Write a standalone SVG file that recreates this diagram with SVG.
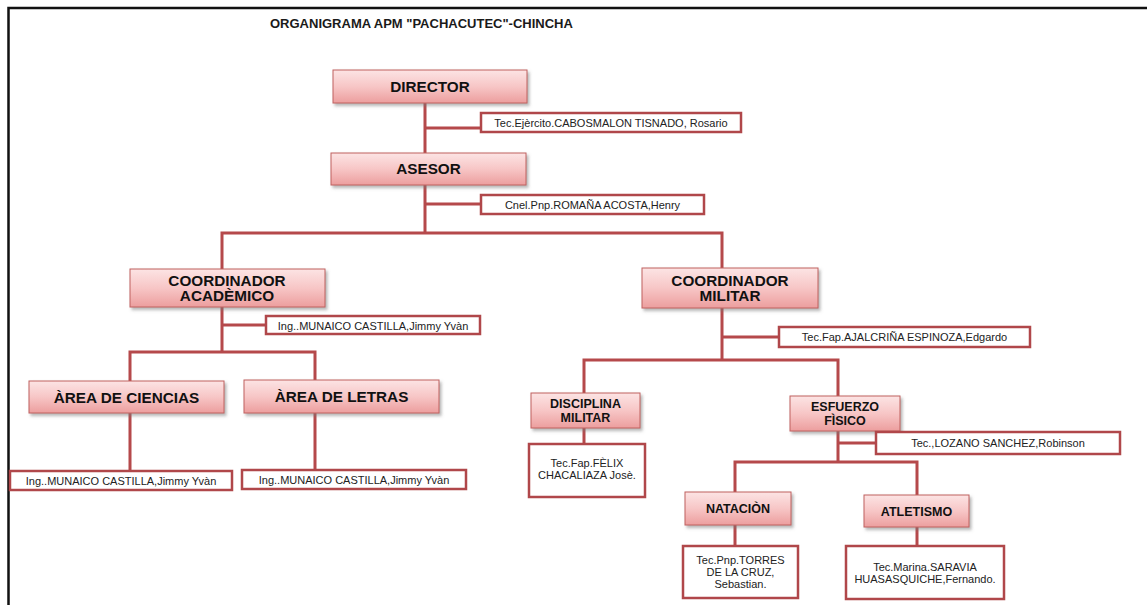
<svg xmlns="http://www.w3.org/2000/svg" width="1147" height="605" viewBox="0 0 1147 605">
  <defs>
    <linearGradient id="pinkFill" x1="0" y1="0" x2="0" y2="1">
      <stop offset="0" stop-color="#fce4e4"/>
      <stop offset="0.5" stop-color="#f7c6c6"/>
      <stop offset="1" stop-color="#ec9e9e"/>
    </linearGradient>
    <filter id="shadow" x="-10%" y="-20%" width="125%" height="150%">
      <feDropShadow dx="2" dy="2.5" stdDeviation="1.5" flood-color="#7a7a7a" flood-opacity="0.55"/>
    </filter>
  </defs>
  <style>
    .frame { fill: none; stroke: #111; stroke-width: 2.5; }
    .title { font-family: "Liberation Sans", Arial, sans-serif; font-weight: bold; font-size: 13px; fill: #1a1a1a; }
    .conn { fill: none; stroke: #b5494b; stroke-width: 3; }
    .unit { fill: url(#pinkFill); stroke: #c0605f; stroke-width: 1; filter: url(#shadow); }
    .person { fill: #fff; stroke: #b0474a; stroke-width: 2.5; }
    .big { font-family: "Liberation Sans", Arial, sans-serif; font-weight: bold; font-size: 15.3px; fill: #111; text-anchor: middle; }
    .small { font-family: "Liberation Sans", Arial, sans-serif; font-weight: bold; font-size: 12.5px; fill: #111; text-anchor: middle; }
    .name { font-family: "Liberation Sans", Arial, sans-serif; font-size: 11px; fill: #222; text-anchor: middle; }
  </style>

  <rect width="1147" height="605" fill="#fff"/>
  <!-- page frame (top and left rules) -->
  <path class="frame" d="M8.5,605 V8 H1147"/>
  <text class="title" x="270" y="28">ORGANIGRAMA APM "PACHACUTEC"-CHINCHA</text>

  <g id="connectors">
    <path class="conn" d="M425,103 V153 M425,128 H481"/>
    <path class="conn" d="M425,185 V233 M425,204 H481"/>
    <path class="conn" d="M222,271 V233 H722 V268"/>
    <path class="conn" d="M222,307 V352 M222,325 H266"/>
    <path class="conn" d="M130,381 V352 H315 V381"/>
    <path class="conn" d="M130,413 V471 M315,413 V470"/>
    <path class="conn" d="M722,308 V360 M722,337 H779"/>
    <path class="conn" d="M584,393 V360 H838 V396"/>
    <path class="conn" d="M584,428 V444"/>
    <path class="conn" d="M838,431 V462 M838,443 H876"/>
    <path class="conn" d="M735,492 V462 H917 V495"/>
    <path class="conn" d="M735,525 V546 M917,527 V546"/>
  </g>

  <g id="director">
    <rect class="unit" x="333" y="70" width="194" height="33"/>
    <text class="big" x="430" y="92">DIRECTOR</text>
  </g>
  <g id="director-titular">
    <rect class="person" x="481" y="113" width="260" height="19"/>
    <text class="name" x="611" y="126.5">Tec.Ejèrcito.CABOSMALON TISNADO, Rosario</text>
  </g>

  <g id="asesor">
    <rect class="unit" x="331" y="153" width="195" height="32"/>
    <text class="big" x="428.5" y="174">ASESOR</text>
  </g>
  <g id="asesor-titular">
    <rect class="person" x="481" y="195" width="223" height="19"/>
    <text class="name" x="592.5" y="208.5">Cnel.Pnp.ROMAÑA ACOSTA,Henry</text>
  </g>

  <g id="coord-academico">
    <rect class="unit" x="130" y="269" width="195" height="38"/>
    <text class="big" x="227" y="286">COORDINADOR</text>
    <text class="big" x="227" y="301">ACADÈMICO</text>
  </g>
  <g id="coord-academico-titular">
    <rect class="person" x="266" y="316" width="214" height="18"/>
    <text class="name" x="373" y="329.5">Ing..MUNAICO CASTILLA,Jimmy Yvàn</text>
  </g>

  <g id="area-ciencias">
    <rect class="unit" x="29" y="381" width="195" height="32"/>
    <text class="big" x="126.5" y="403">ÀREA DE CIENCIAS</text>
  </g>
  <g id="area-ciencias-titular">
    <rect class="person" x="10" y="471" width="222" height="19"/>
    <text class="name" x="121" y="484.5">Ing..MUNAICO CASTILLA,Jimmy Yvàn</text>
  </g>

  <g id="area-letras">
    <rect class="unit" x="244" y="380" width="195" height="33"/>
    <text class="big" x="341.5" y="402">ÀREA DE LETRAS</text>
  </g>
  <g id="area-letras-titular">
    <rect class="person" x="242" y="470" width="224" height="19"/>
    <text class="name" x="354" y="483.5">Ing..MUNAICO CASTILLA,Jimmy Yvàn</text>
  </g>

  <g id="coord-militar">
    <rect class="unit" x="642" y="268" width="176" height="40"/>
    <text class="big" x="730" y="286">COORDINADOR</text>
    <text class="big" x="730" y="301">MILITAR</text>
  </g>
  <g id="coord-militar-titular">
    <rect class="person" x="779" y="327" width="251" height="20"/>
    <text class="name" x="904.5" y="341">Tec.Fap.AJALCRIÑA ESPINOZA,Edgardo</text>
  </g>

  <g id="disciplina-militar">
    <rect class="unit" x="531" y="393" width="109" height="35"/>
    <text class="small" x="585.5" y="408">DISCIPLINA</text>
    <text class="small" x="585.5" y="422">MILITAR</text>
  </g>
  <g id="disciplina-titular">
    <rect class="person" x="529" y="444" width="116" height="53"/>
    <text class="name" x="587" y="467">Tec.Fap.FÈLIX</text>
    <text class="name" x="587" y="479">CHACALIAZA Josè.</text>
  </g>

  <g id="esfuerzo-fisico">
    <rect class="unit" x="790" y="396" width="110" height="35"/>
    <text class="small" x="845" y="411">ESFUERZO</text>
    <text class="small" x="845" y="425">FÌSICO</text>
  </g>
  <g id="esfuerzo-titular">
    <rect class="person" x="876" y="432" width="244" height="22"/>
    <text class="name" x="998" y="447">Tec.,LOZANO SANCHEZ,Robinson</text>
  </g>

  <g id="natacion">
    <rect class="unit" x="685" y="492" width="106" height="33"/>
    <text class="small" x="738" y="513">NATACIÒN</text>
  </g>
  <g id="natacion-titular">
    <rect class="person" x="683" y="546" width="115" height="52"/>
    <text class="name" x="740.5" y="564">Tec.Pnp.TORRES</text>
    <text class="name" x="740.5" y="576">DE LA CRUZ,</text>
    <text class="name" x="740.5" y="588">Sebastian.</text>
  </g>

  <g id="atletismo">
    <rect class="unit" x="864" y="495" width="105" height="32"/>
    <text class="small" x="916.5" y="516">ATLETISMO</text>
  </g>
  <g id="atletismo-titular">
    <rect class="person" x="846" y="546" width="158" height="53"/>
    <text class="name" x="925" y="571">Tec.Marina.SARAVIA</text>
    <text class="name" x="925" y="583">HUASASQUICHE,Fernando.</text>
  </g>
</svg>
